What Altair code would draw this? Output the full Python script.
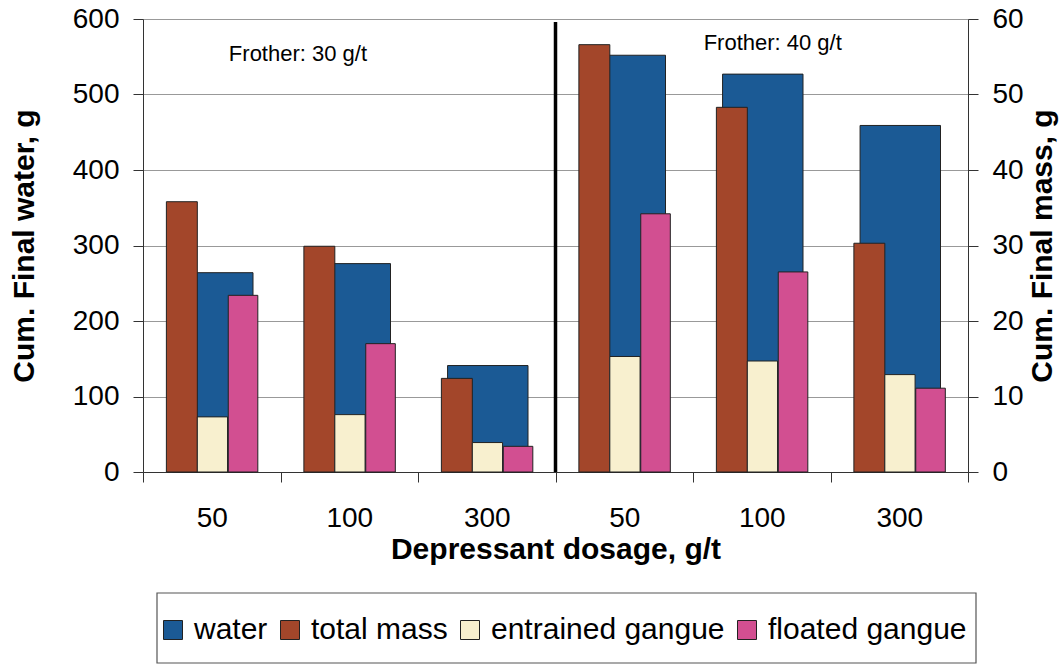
import json

import altair as alt
import pandas as pd

# Depressant dosage (g/t) per slot; first three at frother 30 g/t, last three at 40 g/t
dosage = ["50", "100", "300", "50", "100", "300"]

# Cumulative final water, g (left axis)
water = [264, 276, 141, 552, 527, 459]

# Cumulative final masses, g (right axis)
total_mass = [35.8, 29.9, 12.4, 56.6, 48.3, 30.3]
entrained_gangue = [7.3, 7.6, 3.9, 15.3, 14.7, 12.9]
floated_gangue = [23.4, 17.0, 3.4, 34.2, 26.5, 11.1]

frother_notes = ["Frother: 30 g/t", "Frother: 40 g/t"]

series_names = ["water", "total mass", "entrained gangue", "floated gangue"]
series_colors = ["#1b5a95", "#a3462a", "#f8f0cf", "#d24f91"]

# horizontal extent of each bar inside its dosage slot (fraction of the slot)
slot_span = {
    "water": (0.215, 0.80),
    "total mass": (0.17, 0.395),
    "entrained gangue": (0.395, 0.615),
    "floated gangue": (0.62, 0.835),
}
# where the frother notes sit (slot units, water units)
note_pos = [(1.127, 545), (4.58, 559)]

W, H = 825, 453
FONT = "Liberation Sans"
INK = "#222222"


def bars_frame(name, values):
    lo, hi = slot_span[name]
    return pd.DataFrame({
        "series": name,
        "x0": [i + lo for i in range(len(values))],
        "x1": [i + hi for i in range(len(values))],
        "value": values,
        "base": 0,
    })


water_df = bars_frame("water", water)
mass_df = pd.concat([
    bars_frame("total mass", total_mass),
    bars_frame("entrained gangue", entrained_gangue),
    bars_frame("floated gangue", floated_gangue),
], ignore_index=True)
notes_df = pd.DataFrame({
    "x": [p[0] for p in note_pos],
    "y": [p[1] for p in note_pos],
    "text": frother_notes,
})
divider_df = pd.DataFrame({"x": [3]})

x_scale = alt.Scale(domain=[0, len(dosage)], nice=False, zero=False)
water_scale = alt.Scale(domain=[0, 600], nice=False)
mass_scale = alt.Scale(domain=[0, 60], nice=False)
color_scale = alt.Scale(domain=series_names, range=series_colors)

legend = alt.Legend(
    orient="none", legendX=15, legendY=596, direction="horizontal", columns=4,
    title=None, symbolType="square", symbolSize=361, symbolStrokeColor=INK,
    symbolStrokeWidth=1, labelFontSize=30, labelFont=FONT, labelColor="black",
    labelOffset=6, columnPadding=7, padding=0, labelLimit=400,
)

common_axis = dict(
    labelFont=FONT, titleFont=FONT, labelColor="black", titleColor="black",
    domainColor="#333333", tickColor="#333333",
)

x_tick_axis = alt.Axis(
    orient="bottom", values=list(range(len(dosage) + 1)), labels=False,
    tickSize=10, grid=False, title=None, **common_axis,
)
label_expr = json.dumps(dosage) + "[floor(datum.value)]"
x_label_axis = alt.Axis(
    orient="bottom", values=[i + 0.5 for i in range(len(dosage))],
    labelExpr=label_expr, tickSize=0, ticks=False, domain=False, grid=False,
    labelFontSize=28, labelPadding=32, labelFlush=False,
    title="Depressant dosage, g/t", titleFontSize=30, titleFontWeight="bold",
    titlePadding=2, **common_axis,
)
left_axis = alt.Axis(
    title="Cum. Final water, g", values=list(range(0, 601, 100)),
    grid=True, gridColor="#999999", gridWidth=1, tickSize=10,
    labelFontSize=28, labelPadding=14, titleFontSize=30, titleFontWeight="bold",
    titlePadding=33, **common_axis,
)
right_axis = alt.Axis(
    orient="right", title="Cum. Final mass, g", values=list(range(0, 61, 10)),
    grid=False, tickSize=10, labelFontSize=28, labelPadding=14,
    titleFontSize=30, titleFontWeight="bold", titleAngle=270, titlePadding=34,
    **common_axis,
)

water_bars = alt.Chart(water_df).mark_bar(stroke=INK, strokeWidth=1).encode(
    x=alt.X("x0:Q", scale=x_scale, axis=x_tick_axis),
    x2="x1:Q",
    y=alt.Y("value:Q", scale=water_scale, axis=left_axis),
    y2="base:Q",
    color=alt.Color("series:N", scale=color_scale, legend=legend),
)

notes = alt.Chart(notes_df).mark_text(
    font=FONT, fontSize=22, color="black", align="center", baseline="alphabetic"
).encode(
    x=alt.X("x:Q", scale=x_scale, axis=x_tick_axis),
    y=alt.Y("y:Q", scale=water_scale, axis=left_axis),
    text="text:N",
)

divider = alt.Chart(divider_df).mark_rule(color="black", strokeWidth=3.5).encode(
    x=alt.X("x:Q", scale=x_scale, axis=x_tick_axis),
    y=alt.value(3),
    y2=alt.value(H),
)

mass_bars = alt.Chart(mass_df).mark_bar(stroke=INK, strokeWidth=1).encode(
    x=alt.X("x0:Q", scale=x_scale, axis=x_label_axis),
    x2="x1:Q",
    y=alt.Y("value:Q", scale=mass_scale, axis=right_axis),
    y2="base:Q",
    color=alt.Color("series:N", scale=color_scale, legend=legend),
)

# frame drawn around the legend row
legend_frame = alt.Chart(pd.DataFrame({"k": [0]})).mark_rect(
    fillOpacity=0, stroke="#555555", strokeWidth=1.2
).encode(
    x=alt.value(14), x2=alt.value(833), y=alt.value(574), y2=alt.value(644),
)

water_group = alt.layer(water_bars, notes, divider)

chart = (
    alt.layer(water_group, mass_bars, legend_frame)
    .resolve_scale(y="independent")
    .resolve_axis(x="independent")
    .properties(
        width=W, height=H,
        autosize=alt.AutoSizeParams(type="none"),
        padding={"left": 143, "top": 19, "right": 96, "bottom": 193},
        background="white",
    )
    .configure_view(stroke="transparent")
    .configure(font=FONT)
)

chart.save("out.html", embed_options={"renderer": "svg", "actions": False})
